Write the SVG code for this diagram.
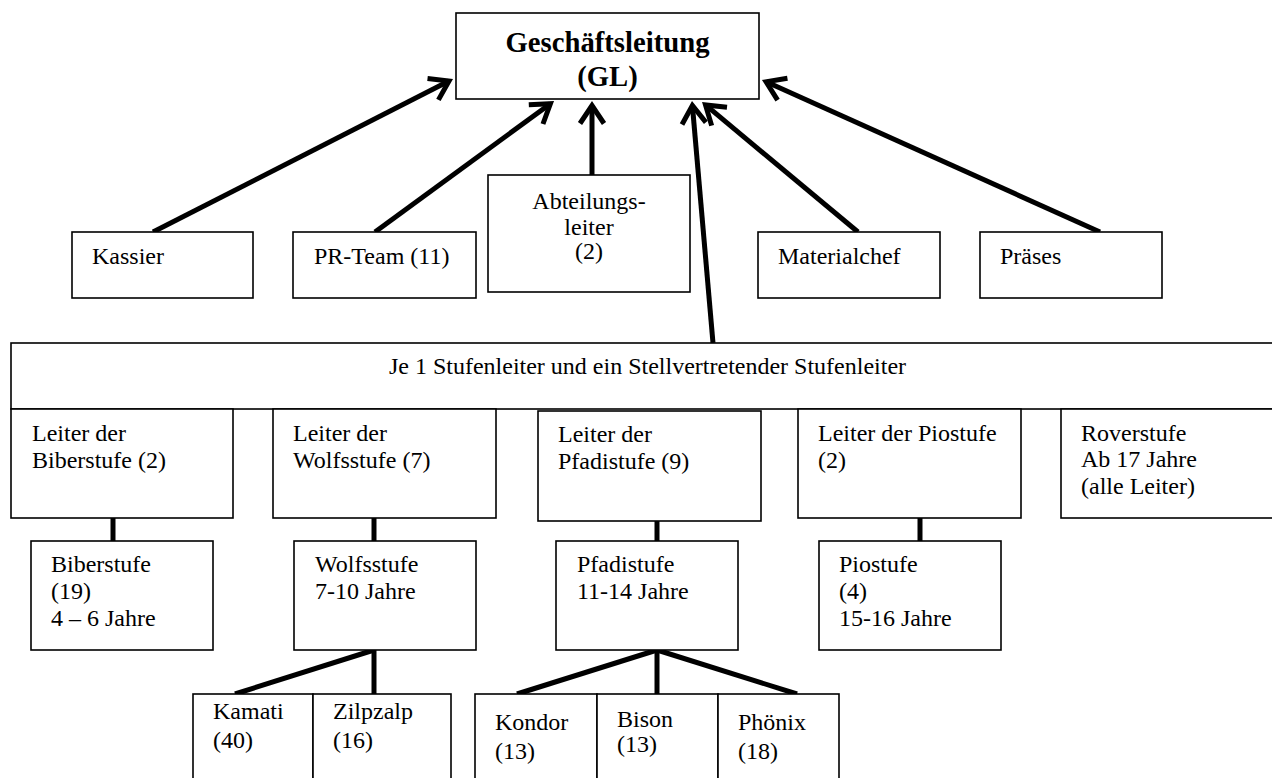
<svg xmlns="http://www.w3.org/2000/svg" width="1272" height="778" viewBox="0 0 1272 778">
<style>
.box{fill:#fff;stroke:#000;stroke-width:1.6}
.t{font-family:"Liberation Serif","Times New Roman",serif;font-size:24px;fill:#000}
.c{text-anchor:middle}
.gl{font-family:"Liberation Serif","Times New Roman",serif;font-size:28.7px;font-weight:bold;fill:#000;text-anchor:middle}
.con{stroke:#000;stroke-width:5;fill:none}
.arr{stroke:#000;stroke-width:5;fill:none;marker-end:url(#head)}
</style>
<defs>
<marker id="head" markerUnits="userSpaceOnUse" markerWidth="50" markerHeight="50" viewBox="-25 -25 50 50" refX="0" refY="0" orient="auto" overflow="visible">
<path d="M-18,-12 L0,0 L-18,12" fill="none" stroke="#000" stroke-width="5" stroke-linejoin="miter"/>
</marker>
</defs>
<rect width="1272" height="778" fill="#fff"/>

<g id="connectors">
<line class="arr" x1="153" y1="232" x2="449" y2="81"/>
<line class="arr" x1="375" y1="232" x2="550.4" y2="103.7"/>
<line class="arr" x1="592" y1="175" x2="592" y2="105.5"/>
<line class="arr" x1="713" y1="343" x2="692.4" y2="105.5"/>
<line class="arr" x1="858" y1="232" x2="705.5" y2="104.9"/>
<line class="arr" x1="1100" y1="232" x2="766.1" y2="81.8"/>
<line class="con" x1="113" y1="518" x2="113" y2="541"/>
<line class="con" x1="374" y1="518" x2="374" y2="541"/>
<line class="con" x1="657" y1="521" x2="657" y2="541"/>
<line class="con" x1="920" y1="518" x2="920" y2="541"/>
<line class="con" x1="374" y1="650" x2="235" y2="694"/>
<line class="con" x1="374" y1="650" x2="374" y2="694"/>
<line class="con" x1="657" y1="650" x2="517" y2="694"/>
<line class="con" x1="657" y1="650" x2="657" y2="694"/>
<line class="con" x1="657" y1="650" x2="797" y2="694"/>
</g>

<g id="gl">
<rect class="box" x="456" y="13" width="303" height="86"/>
<text class="gl" x="607.5" y="52">Geschäftsleitung</text>
<text class="gl" x="607.5" y="86">(GL)</text>
</g>

<g id="kassier">
<rect class="box" x="72" y="232" width="181" height="66"/>
<text class="t" x="92" y="264">Kassier</text>
</g>

<g id="prteam">
<rect class="box" x="293" y="232" width="183" height="66"/>
<text class="t" x="314" y="264">PR-Team (11)</text>
</g>

<g id="abteilungsleiter">
<rect class="box" x="488" y="175" width="202" height="117"/>
<text class="t c" x="589" y="209">Abteilungs-</text>
<text class="t c" x="589" y="235">leiter</text>
<text class="t c" x="589" y="259">(2)</text>
</g>

<g id="materialchef">
<rect class="box" x="758" y="232" width="182" height="66"/>
<text class="t" x="778" y="264">Materialchef</text>
</g>

<g id="praeses">
<rect class="box" x="980" y="232" width="182" height="66"/>
<text class="t" x="1000" y="264">Präses</text>
</g>

<g id="stufenleiter">
<rect class="box" x="11" y="343" width="1275" height="66"/>
<text class="t c" x="647.5" y="374">Je 1 Stufenleiter und ein Stellvertretender Stufenleiter</text>
</g>

<g id="leiter-biber">
<rect class="box" x="11" y="409" width="222" height="109"/>
<text class="t" x="32" y="441">Leiter der</text>
<text class="t" x="32" y="468">Biberstufe (2)</text>
</g>

<g id="leiter-wolf">
<rect class="box" x="273" y="409" width="223" height="109"/>
<text class="t" x="293" y="441">Leiter der</text>
<text class="t" x="293" y="468">Wolfsstufe (7)</text>
</g>

<g id="leiter-pfadi">
<rect class="box" x="538" y="411" width="223" height="110"/>
<text class="t" x="558" y="442">Leiter der</text>
<text class="t" x="558" y="469">Pfadistufe (9)</text>
</g>

<g id="leiter-pio">
<rect class="box" x="798" y="409" width="223" height="109"/>
<text class="t" x="818" y="441">Leiter der Piostufe</text>
<text class="t" x="818" y="468">(2)</text>
</g>

<g id="roverstufe">
<rect class="box" x="1061" y="409" width="225" height="109"/>
<text class="t" x="1081" y="441">Roverstufe</text>
<text class="t" x="1081" y="467">Ab 17 Jahre</text>
<text class="t" x="1081" y="494">(alle Leiter)</text>
</g>

<g id="biberstufe">
<rect class="box" x="31" y="541" width="182" height="109"/>
<text class="t" x="51" y="572">Biberstufe</text>
<text class="t" x="51" y="599">(19)</text>
<text class="t" x="51" y="626">4 – 6 Jahre</text>
</g>

<g id="wolfsstufe">
<rect class="box" x="294" y="541" width="182" height="109"/>
<text class="t" x="315" y="572">Wolfsstufe</text>
<text class="t" x="315" y="599">7-10 Jahre</text>
</g>

<g id="pfadistufe">
<rect class="box" x="556" y="541" width="182" height="109"/>
<text class="t" x="577" y="572">Pfadistufe</text>
<text class="t" x="577" y="599">11-14 Jahre</text>
</g>

<g id="piostufe">
<rect class="box" x="819" y="541" width="182" height="109"/>
<text class="t" x="839" y="572">Piostufe</text>
<text class="t" x="839" y="599">(4)</text>
<text class="t" x="839" y="626">15-16 Jahre</text>
</g>

<g id="kamati">
<rect class="box" x="193" y="694" width="120" height="100"/>
<text class="t" x="213" y="719">Kamati</text>
<text class="t" x="213" y="748">(40)</text>
</g>

<g id="zilpzalp">
<rect class="box" x="313" y="694" width="138" height="100"/>
<text class="t" x="333" y="719">Zilpzalp</text>
<text class="t" x="333" y="748">(16)</text>
</g>

<g id="kondor">
<rect class="box" x="475" y="694" width="122" height="100"/>
<text class="t" x="495" y="730">Kondor</text>
<text class="t" x="495" y="759">(13)</text>
</g>

<g id="bison">
<rect class="box" x="597" y="694" width="121" height="100"/>
<text class="t" x="617" y="727">Bison</text>
<text class="t" x="617" y="752">(13)</text>
</g>

<g id="phoenix">
<rect class="box" x="718" y="694" width="121" height="100"/>
<text class="t" x="738" y="730">Phönix</text>
<text class="t" x="738" y="759">(18)</text>
</g>
</svg>
